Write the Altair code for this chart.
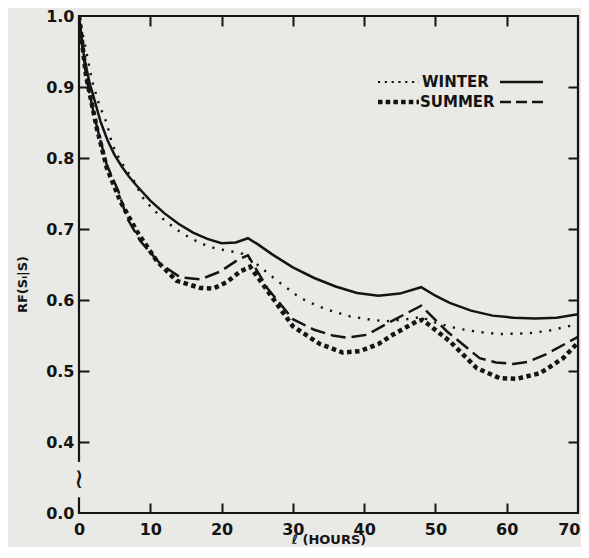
import altair as alt
import pandas as pd

# ---- data ----
ws_hours = [0, 0.5, 1, 1.5, 2, 3, 4, 5, 6, 7, 8, 10, 12, 14, 16, 18, 20, 22, 23.7, 25, 27, 30, 33, 36, 39, 42, 45, 48, 50, 52, 55, 58, 61, 64, 67, 70]
ws_rf = [1.0, 0.955, 0.928, 0.905, 0.888, 0.852, 0.825, 0.804, 0.788, 0.774, 0.762, 0.740, 0.722, 0.707, 0.695, 0.686, 0.680, 0.681, 0.687, 0.679, 0.665, 0.646, 0.631, 0.619, 0.610, 0.606, 0.609, 0.618, 0.606, 0.596, 0.585, 0.578, 0.575, 0.574, 0.575, 0.580]

wd_hours = [0, 1, 1.8, 2.8, 3.9, 4.6, 5.6, 6.7, 7.9, 8.8, 9.7, 12, 14.6, 17, 19, 21.6, 23, 25, 27.7, 31, 33.4, 35.6, 38, 40.4, 43, 46, 48, 50, 53, 56, 59, 63, 66, 70]
wd_rf = [1.0, 0.951, 0.91, 0.876, 0.849, 0.821, 0.80, 0.782, 0.765, 0.746, 0.735, 0.712, 0.693, 0.680, 0.673, 0.668, 0.665, 0.650, 0.628, 0.603, 0.592, 0.584, 0.577, 0.573, 0.570, 0.573, 0.576, 0.568, 0.560, 0.555, 0.552, 0.553, 0.557, 0.566]

sd_hours = [0, 1, 2.2, 3.9, 5.5, 6.7, 8.6, 11.4, 14.2, 17, 19.8, 22.2, 23.7, 26.4, 30, 33, 35.6, 37.6, 40.4, 44, 48, 51.6, 56.2, 58.5, 60.9, 63, 65.6, 70]
sd_rf = [1.0, 0.915, 0.856, 0.79, 0.754, 0.716, 0.683, 0.651, 0.632, 0.629, 0.640, 0.656, 0.663, 0.617, 0.573, 0.558, 0.550, 0.547, 0.551, 0.571, 0.592, 0.556, 0.518, 0.512, 0.510, 0.513, 0.524, 0.548]

sq_hours = [0, 1, 2.5, 3.9, 5.8, 8.1, 10.9, 13.7, 17, 18.8, 20.7, 22.6, 24, 26.8, 30, 33.8, 37, 39.4, 42, 44, 47.4, 48.2, 52, 55.8, 59, 61.4, 64.7, 67.9, 70]
sq_rf = [1.0, 0.915, 0.842, 0.786, 0.739, 0.697, 0.655, 0.627, 0.617, 0.616, 0.625, 0.640, 0.647, 0.608, 0.563, 0.538, 0.526, 0.528, 0.538, 0.551, 0.570, 0.572, 0.542, 0.504, 0.490, 0.489, 0.497, 0.518, 0.540]

x_ticks = [0, 10, 20, 30, 40, 50, 60]
x_last = [70]
y_ticks = [0.3, 0.4, 0.5, 0.6, 0.7, 0.8, 0.9, 1.0]
x_inner = [10, 20, 30, 40, 50, 60]
y_inner = [0.4, 0.5, 0.6, 0.7, 0.8, 0.9]

# ---- layout ----
W, H = 499, 497
INK = "#141414"
BG = "#e9e9e6"
FONT = "DejaVu Sans"

rows = []
for name, hs, rs in [("ws", ws_hours, ws_rf), ("wd", wd_hours, wd_rf),
                     ("sd", sd_hours, sd_rf), ("sq", sq_hours, sq_rf)]:
    for h, r in zip(hs, rs):
        rows.append({"series": name, "h": h, "rf": r})
df = pd.DataFrame(rows)

xs = alt.Scale(domain=[0, 70], nice=False, zero=False)
ys = alt.Scale(domain=[0.3, 1.0], nice=False, zero=False)


def series_line(name, dash, width):
    props = dict(color=INK, strokeWidth=width, strokeCap="butt", clip=True)
    if dash:
        props["strokeDash"] = dash
    return alt.Chart(df).transform_filter(alt.datum.series == name).mark_line(**props).encode(
        x=alt.X("h:Q", scale=xs, axis=None),
        y=alt.Y("rf:Q", scale=ys, axis=None),
        order="h:Q",
    )


lines = [
    series_line("ws", None, 2.5),
    series_line("wd", [2.2, 7.5], 2.4),
    series_line("sd", [15, 6], 2.5),
    series_line("sq", [4.5, 3.5], 4.5),
]

tick_df = pd.DataFrame({"h": [0, 70], "rf": [0.3, 1.0]})
label_style = dict(labelFont=FONT, labelFontSize=16, labelFontWeight="bold", labelColor=INK,
                   labelOverlap=False, ticks=False, domain=False, grid=False)

label_axes = alt.Chart(tick_df).mark_point(opacity=0).encode(
    x=alt.X("h:Q", scale=xs, axis=alt.Axis(
        orient="bottom", values=x_ticks, labelPadding=8, labelFlush=False,
        title="ℓ (HOURS)", titleFont=FONT, titleFontSize=13, titleFontWeight="bold",
        titleColor=INK, titlePadding=-4, **label_style)),
    y=alt.Y("rf:Q", scale=ys, axis=alt.Axis(
        orient="left", values=y_ticks,
        labelExpr="datum.value < 0.35 ? '0.0' : format(datum.value, '.1f')",
        labelPadding=5, labelFlush=False,
        title="RF(Sₗ|S)", titleFont=FONT, titleFontSize=13, titleFontWeight="bold",
        titleColor=INK, titlePadding=16, titleY=268, **label_style)),
)

# last x label, pulled inside so it is not cut by the page edge
last_label = alt.Chart(tick_df).mark_point(opacity=0).encode(
    x=alt.X("h:Q", scale=xs, axis=alt.Axis(
        orient="bottom", values=x_last, labelPadding=8, labelFlush=True, labelFlushOffset=2,
        title=None, **label_style)),
)


def tick_axis(orient_x, orient_y):
    common = dict(labels=False, domain=False, grid=False, title=None,
                  ticks=True, tickSize=10, tickWidth=2, tickColor=INK)
    return alt.Chart(tick_df).mark_point(opacity=0).encode(
        x=alt.X("h:Q", scale=xs, axis=alt.Axis(orient=orient_x, offset=-H, values=x_inner, **common)),
        y=alt.Y("rf:Q", scale=ys, axis=alt.Axis(orient=orient_y, offset=-W, values=y_inner, **common)),
    )


ticks_a = tick_axis("top", "right")     # ticks at bottom (up) and left (right)
ticks_b = tick_axis("bottom", "left")   # ticks at top (down) and right (left)

# axis break on the y axis
brk_df = pd.DataFrame({"h": [0], "lo": [0.322], "hi": [0.372], "mid": [0.347]})
brk_mask = alt.Chart(brk_df).mark_rect(color=BG, clip=False).encode(
    x=alt.value(-3), x2=alt.value(3),
    y=alt.Y("lo:Q", scale=ys, axis=None), y2="hi:Q")
brk_sym = alt.Chart(brk_df).mark_text(text="≀", font=FONT, fontSize=28, color=INK, clip=False).encode(
    x=alt.X("h:Q", scale=xs, axis=None), y=alt.Y("mid:Q", scale=ys, axis=None))

# legend
one = pd.DataFrame({"k": [0]})
leg = [
    alt.Chart(one).mark_rule(color=INK, strokeWidth=2.2, strokeDash=[2.2, 4.6], strokeCap="butt").encode(
        x=alt.value(299), x2=alt.value(340), y=alt.value(66)),
    alt.Chart(one).mark_rule(color=INK, strokeWidth=4.5, strokeDash=[4.5, 3.2], strokeCap="butt").encode(
        x=alt.value(299), x2=alt.value(340), y=alt.value(86)),
    alt.Chart(one).mark_rule(color=INK, strokeWidth=2.5).encode(
        x=alt.value(421), x2=alt.value(464), y=alt.value(66)),
    alt.Chart(one).mark_rule(color=INK, strokeWidth=2.5, strokeDash=[11, 5]).encode(
        x=alt.value(421), x2=alt.value(464), y=alt.value(86)),
    alt.Chart(one).mark_text(text="WINTER", font=FONT, fontSize=15, fontWeight="bold", color=INK,
                             align="left", baseline="middle").encode(x=alt.value(343), y=alt.value(66)),
    alt.Chart(one).mark_text(text="SUMMER", font=FONT, fontSize=15, fontWeight="bold", color=INK,
                             align="left", baseline="middle").encode(x=alt.value(341), y=alt.value(86)),
]

chart = alt.layer(
    label_axes, last_label, ticks_a, ticks_b, *lines, brk_mask, brk_sym, *leg
).resolve_axis(x="independent", y="independent").properties(
    width=W, height=H,
    autosize=alt.AutoSizeParams(type="none"),
    padding={"left": 71, "top": 8, "right": 3, "bottom": 34},
    background=BG,
).configure_view(stroke=INK, strokeWidth=2.2)

chart.save("out.html", embed_options={"renderer": "svg", "actions": False})
